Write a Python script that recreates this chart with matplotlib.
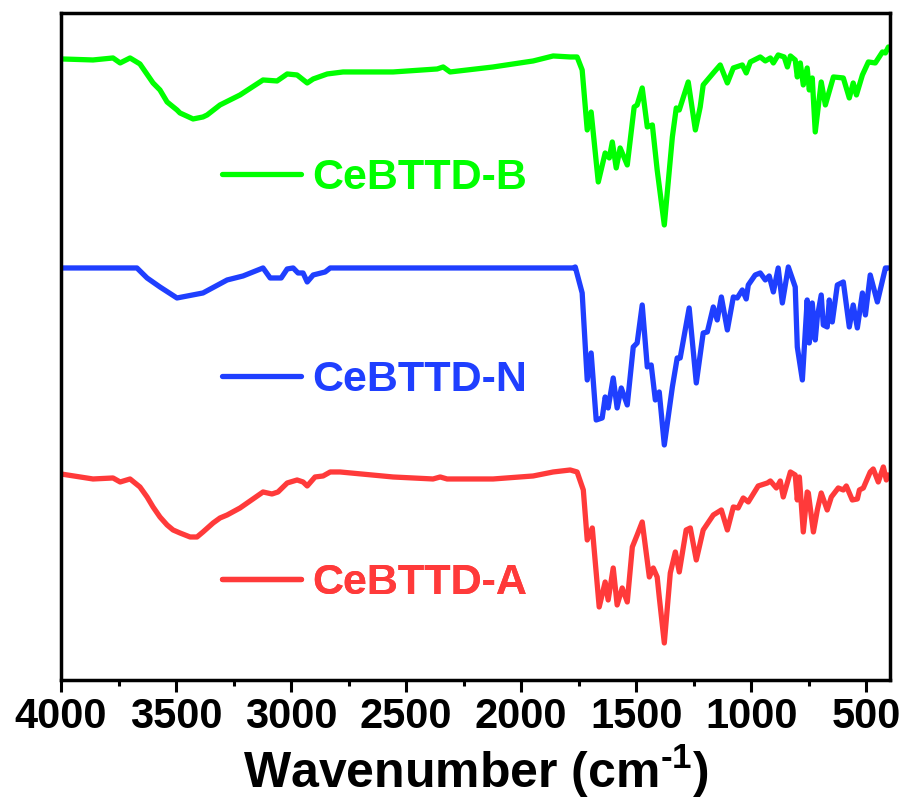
import matplotlib
matplotlib.use("Agg")
import matplotlib.pyplot as plt
from matplotlib.ticker import MultipleLocator

plt.rcParams['font.family'] = ['Liberation Sans', 'DejaVu Sans']
plt.rcParams['font.weight'] = 'bold'
plt.rcParams['mathtext.fontset'] = 'custom'
plt.rcParams['mathtext.rm'] = 'Liberation Sans:bold'
plt.rcParams['mathtext.default'] = 'rm'

# spectra (wavenumber in cm-1, offset transmittance in a.u.)
wn_b = [3996, 3861, 3774, 3743, 3700, 3657, 3600, 3570, 3539, 3496, 3483, 3426,
        3383, 3365, 3309, 3222,
        3122, 3061, 3017, 2974, 2930, 2904, 2843, 2774, 2557, 2365, 2339, 2309,
        2122, 1948, 1861, 1787, 1757, 1735, 1713, 1696, 1665, 1635, 1617, 1604,
        1587, 1570, 1539, 1509, 1496, 1474, 1452, 1430, 1409, 1378, 1343, 1326,
        1313, 1274, 1243, 1222, 1209, 1165, 1135, 1104, 1078, 1039, 1022, 1004,
        961, 939, 917, 904, 883, 857, 843, 830, 809, 800, 787, 774, 757, 748,
        735, 722, 696, 678, 643, 600, 574, 557, 543, 517, 491, 461, 430, 417, 404]
t_b = [621, 620, 622, 617, 622, 616, 597, 590, 578, 570, 567, 561,
       563, 565, 575, 585,
       600, 599, 606, 605, 597, 601, 606, 608, 608, 611, 613, 608,
       613, 619, 624, 623, 623, 610, 550, 568, 498, 527, 522, 538,
       512, 532, 515, 573, 575, 592, 553, 555, 510, 455, 543, 572,
       570, 598, 550, 573, 595, 607, 615, 597, 612, 615, 607, 618,
       623, 619, 622, 617, 625, 623, 613, 624, 620, 603, 617, 595, 612, 590,
       602, 548, 598, 575, 603, 602, 582, 597, 585, 605, 618, 617, 628, 627, 633]

wn_n = [3996, 3670, 3626, 3570, 3496, 3383, 3278, 3209, 3122, 3091, 3043, 3017,
        2991, 2970, 2948, 2930, 2904, 2852, 2830, 2800, 2500, 2000, 1774, 1765,
        1735, 1713, 1696, 1674, 1648, 1635, 1622, 1600, 1583, 1565, 1539, 1513,
        1496, 1474, 1452, 1435, 1417, 1400, 1378, 1343, 1322, 1309, 1270, 1239,
        1209, 1191, 1165, 1148, 1130, 1104, 1078, 1061, 1039, 1022, 1013, 983,
        961, 939, 922, 904, 883, 865, 839, 809, 800, 778, 757, 748, 735, 722,
        713, 696, 687, 670, 661, 648, 626, 600, 574, 557, 539, 517, 504, 483,
        452, 417, 404]
t_n = [412, 412, 402, 393, 382, 387, 400, 404, 412, 402, 402, 411,
       412, 407, 407, 398, 405, 408, 412, 412, 412, 412, 412, 413,
       387, 300, 327, 260, 262, 283, 272, 302, 272, 292, 275, 333,
       337, 375, 313, 315, 280, 288, 235, 293, 322, 322, 372, 297,
       347, 348, 373, 360, 383, 350, 383, 382, 390, 381, 395, 405,
       407, 400, 404, 388, 412, 377, 413, 393, 333, 300, 380, 337, 377, 340,
       363, 385, 355, 353, 380, 358, 395, 398, 353, 375, 352, 387, 365, 405,
       378, 412, 412]

wn_a = [4000, 3861, 3774, 3743, 3700, 3657, 3626, 3600, 3570, 3539, 3513, 3483,
        3439, 3409, 3383, 3339, 3309, 3278, 3222,
        3122, 3083, 3057, 3017, 2974, 2948, 2930, 2896, 2861, 2830, 2787, 2557,
        2383, 2352, 2322, 2122, 1948, 1861, 1787, 1757, 1730, 1713, 1691, 1661,
        1635, 1622, 1600, 1583, 1561, 1539, 1517, 1496, 1474, 1443, 1426, 1409,
        1400, 1378, 1352, 1330, 1313, 1283, 1265, 1239, 1209, 1165, 1130, 1104,
        1078, 1057, 1035, 1013, 970, 930, 917, 891, 874, 861, 830, 809, 800,
        791, 774, 757, 752, 730, 713, 696, 670, 652, 622, 600, 587, 561, 539,
        530, 513, 483, 470, 448, 426, 413, 404]
t_a = [206, 201, 202, 198, 201, 193, 183, 173, 163, 155, 150, 147,
       143, 143, 148, 157, 162, 165, 172,
       188, 186, 188, 197, 200, 198, 194, 203, 204, 208, 208, 203,
       201, 203, 201, 201, 204, 208, 210, 208, 190, 140, 152, 73,
       98, 80, 112, 75, 92, 78, 133, 145, 158, 103, 112, 103,
       83, 37, 107, 128, 108, 150, 152, 120, 150, 165, 170, 150,
       173, 172, 182, 178, 194, 197, 199, 192, 199, 183, 208, 205, 180,
       203, 148, 188, 187, 148, 170, 187, 170, 183, 192, 190, 194, 180, 181,
       190, 192, 208, 211, 198, 213, 200, 205]

series = [
    (wn_b, t_b, '#00ff00', 'CeBTTD-B', 0.7526),
    (wn_n, t_n, '#1f3fff', 'CeBTTD-N', 0.4498),
    (wn_a, t_a, '#ff3a3a', 'CeBTTD-A', 0.1454),
]

fig = plt.figure(figsize=(9.08, 8.05), dpi=100)
ax = fig.add_axes([0.0672, 0.1553, 0.9130, 0.8286])

for wn, t, color, label, ypos in series:
    line, = ax.plot(wn, t, color=color, lw=3.8, solid_joinstyle='round',
                    solid_capstyle='round')
    leg = ax.legend(handles=[line], labels=[label], loc='center left',
                    bbox_to_anchor=(0.194, ypos), frameon=False,
                    borderpad=0, borderaxespad=0, handlelength=1.85,
                    handletextpad=0.25, labelcolor='linecolor',
                    prop={'size': 31, 'weight': 'bold'})
    ax.add_artist(leg)

ax.set_xlim(4000, 397)
ax.set_ylim(0, 667)
ax.xaxis.set_major_locator(MultipleLocator(500))
ax.xaxis.set_minor_locator(MultipleLocator(250))
ax.set_yticks([])
ax.tick_params(axis='x', which='major', direction='out', length=8.6, width=2.2,
               labelsize=30, pad=3.5)
ax.tick_params(axis='x', which='minor', direction='out', length=4.3, width=2.2)
for lbl in ax.get_xticklabels():
    lbl.set_fontweight('bold')
for sp in ax.spines.values():
    sp.set_linewidth(2.5)

ax.set_xlabel('Wavenumber (cm$^{\u20101}$)', fontsize=36, fontweight='bold', labelpad=4)

fig.savefig('out.png', dpi=100)
